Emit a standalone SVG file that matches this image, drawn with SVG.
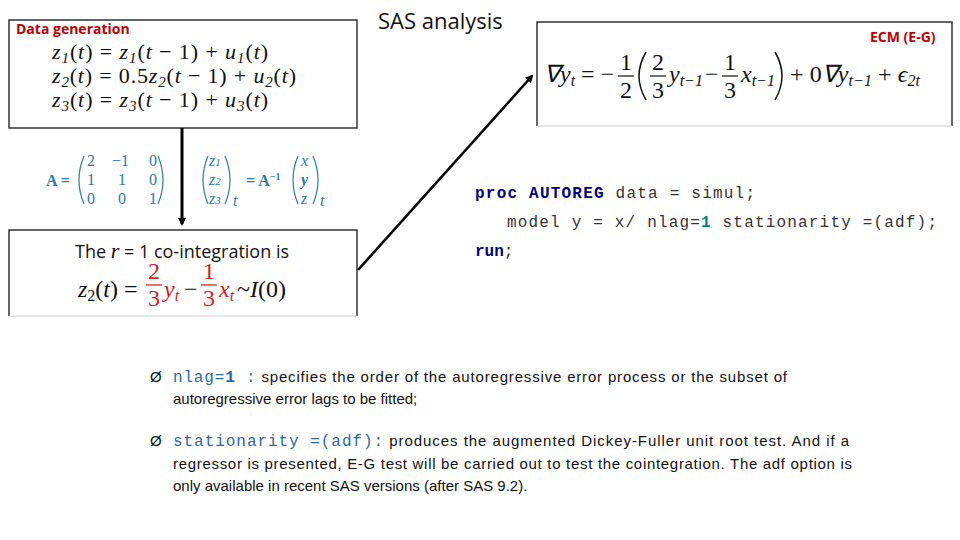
<svg xmlns="http://www.w3.org/2000/svg" width="960" height="540" viewBox="0 0 960 540">
<style>
.box{fill:#fff;stroke:#333;stroke-width:1.5}
.m{font-family:"Liberation Serif",serif;font-size:24px;fill:#111}
.d{font-family:"Liberation Serif",serif;font-size:22px;fill:#111}
.i{font-style:italic}
.red{fill:#d42020}
.blue{font-family:"Liberation Serif",serif;font-size:16px;fill:#2a7ab0}
.par{fill:none;stroke:#2a7ab0;stroke-width:1.2}
.bp{fill:none;stroke:#111;stroke-width:1.5}
.lab{font-family:"Open Sans","Liberation Sans",sans-serif;font-weight:bold;font-size:14px;fill:#c00000}
.code{font-family:"Liberation Mono",monospace;font-size:16px;fill:#333}
.kw{fill:#000080;font-weight:bold}
.num{fill:#008080;font-weight:bold}
.body{font-family:"Liberation Sans",sans-serif;font-size:15px;fill:#111}
.bc{font-family:"Liberation Mono",monospace;font-size:16px;fill:#2a6aa0}
</style>
<defs><marker id="ah" markerWidth="8" markerHeight="8" refX="6" refY="4" orient="auto" markerUnits="userSpaceOnUse" viewBox="0 0 8 8"><path d="M0,0 L8,4 L0,8z" fill="#000"/></marker></defs>
<text x="378" y="29" font-family="Open Sans,Liberation Sans,sans-serif" font-size="22" fill="#111">SAS analysis</text>
<g id="datagen">
<rect class="box" x="9" y="20" width="348" height="108"/>
<text class="lab" x="16" y="34">Data generation</text>
<text class="d i" x="52" y="59" textLength="216">z<tspan font-size="15" dy="4">1</tspan><tspan dy="-4" font-style="normal">(</tspan>t<tspan font-style="normal">) = </tspan>z<tspan font-size="15" dy="4">1</tspan><tspan dy="-4" font-style="normal">(</tspan>t<tspan font-style="normal"> − 1) + </tspan>u<tspan font-size="15" dy="4">1</tspan><tspan dy="-4" font-style="normal">(</tspan>t<tspan font-style="normal">)</tspan></text>
<text class="d i" x="52" y="83" textLength="244">z<tspan font-size="15" dy="4">2</tspan><tspan dy="-4" font-style="normal">(</tspan>t<tspan font-style="normal">) = 0.5</tspan>z<tspan font-size="15" dy="4">2</tspan><tspan dy="-4" font-style="normal">(</tspan>t<tspan font-style="normal"> − 1) + </tspan>u<tspan font-size="15" dy="4">2</tspan><tspan dy="-4" font-style="normal">(</tspan>t<tspan font-style="normal">)</tspan></text>
<text class="d i" x="52" y="107" textLength="216">z<tspan font-size="15" dy="4">3</tspan><tspan dy="-4" font-style="normal">(</tspan>t<tspan font-style="normal">) = </tspan>z<tspan font-size="15" dy="4">3</tspan><tspan dy="-4" font-style="normal">(</tspan>t<tspan font-style="normal"> − 1) + </tspan>u<tspan font-size="15" dy="4">3</tspan><tspan dy="-4" font-style="normal">(</tspan>t<tspan font-style="normal">)</tspan></text>
</g>
<g id="matrix">
<text class="blue" x="46" y="186" font-weight="bold">A =</text>
<path class="par" d="M84,156 Q74,180 84,204"/>
<text class="blue" x="87" y="166">2</text><text class="blue" x="112" y="166">−1</text><text class="blue" x="149" y="166">0</text>
<text class="blue" x="87" y="185">1</text><text class="blue" x="118" y="185">1</text><text class="blue" x="149" y="185">0</text>
<text class="blue" x="87" y="204">0</text><text class="blue" x="118" y="204">0</text><text class="blue" x="149" y="204">1</text>
<path class="par" d="M158,156 Q168,180 158,204"/>
<path class="par" d="M208,156 Q198,180 208,204"/>
<text class="blue" x="209" y="166" font-style="italic">z<tspan font-size="11">1</tspan></text>
<text class="blue" x="209" y="185" font-style="italic">z<tspan font-size="11">2</tspan></text>
<text class="blue" x="209" y="204" font-style="italic">z<tspan font-size="11">3</tspan></text>
<path class="par" d="M225,156 Q235,180 225,204"/>
<text class="blue" x="233" y="206" font-size="10" font-style="italic">t</text>
<text class="blue" x="246" y="186" font-weight="bold">= A<tspan font-size="10" dy="-6">−1</tspan></text>
<path class="par" d="M298,156 Q288,180 298,204"/>
<text class="blue" x="301" y="166" font-style="italic">x</text>
<text class="blue" x="301" y="185" font-style="italic" font-weight="bold">y</text>
<text class="blue" x="301" y="204" font-style="italic">z</text>
<path class="par" d="M313,156 Q323,180 313,204"/>
<text class="blue" x="320" y="206" font-size="10" font-style="italic">t</text>
</g>
<g id="coint">
<path d="M9,316 V230 H357 V316" fill="#fff" stroke="#333" stroke-width="1.5"/>
<line x1="9" y1="316" x2="357" y2="316" stroke="#ccc"/>
<text x="75" y="258" font-family="Open Sans,Liberation Sans,sans-serif" font-size="18" fill="#111">The <tspan font-family="Liberation Serif,serif" font-style="italic" font-size="22">r</tspan> = 1 co-integration is</text>
<text class="m" x="78" y="297"><tspan font-style="italic">z</tspan><tspan font-size="16" dy="4">2</tspan><tspan dy="-4">(</tspan><tspan font-style="italic">t</tspan>) =</text>
<text class="m red" x="148" y="279">2</text><line x1="146" y1="285" x2="162" y2="285" stroke="#d42020" stroke-width="1.3"/><text class="m red" x="148" y="306">3</text>
<text class="m red i" x="164" y="297">y<tspan font-size="16" dy="4">t</tspan></text>
<text class="m" x="184" y="297">−</text>
<text class="m red" x="203" y="279">1</text><line x1="201" y1="285" x2="217" y2="285" stroke="#d42020" stroke-width="1.3"/><text class="m red" x="203" y="306">3</text>
<text class="m red i" x="219" y="297">x<tspan font-size="16" dy="4">t</tspan></text>
<text class="m" x="237" y="297">~<tspan font-style="italic">I</tspan>(0)</text>
</g>
<g id="ecm">
<path d="M537,126 V22 H952 V126" fill="#fff" stroke="#333" stroke-width="1.5"/>
<line x1="537" y1="126" x2="952" y2="126" stroke="#ccc"/>
<text class="lab" x="870" y="42">ECM (E-G)</text>
<text class="m" x="544" y="82"><tspan font-style="italic">∇y</tspan><tspan font-size="16" dy="4" font-style="italic">t</tspan><tspan dy="-4"> = −</tspan></text>
<text class="m" x="620" y="70">1</text><line x1="618" y1="76" x2="634" y2="76" stroke="#111" stroke-width="1.2"/><text class="m" x="620" y="98">2</text>
<path class="bp" d="M646,52 Q632,76 646,100"/>
<text class="m" x="652" y="70">2</text><line x1="650" y1="76" x2="666" y2="76" stroke="#111" stroke-width="1.2"/><text class="m" x="652" y="98">3</text>
<text class="m i" x="669" y="82">y<tspan font-size="16" dy="4">t−1</tspan></text>
<text class="m" x="705" y="82">−</text>
<text class="m" x="724" y="70">1</text><line x1="722" y1="76" x2="738" y2="76" stroke="#111" stroke-width="1.2"/><text class="m" x="724" y="98">3</text>
<text class="m i" x="741" y="82">x<tspan font-size="16" dy="4">t−1</tspan></text>
<path class="bp" d="M775,52 Q789,76 775,100"/>
<text class="m" x="790" y="82" textLength="130">+ 0<tspan font-style="italic">∇y</tspan><tspan font-size="16" dy="4" font-style="italic">t−1</tspan><tspan dy="-4"> + </tspan><tspan font-style="italic">ϵ</tspan><tspan font-size="16" dy="4" font-style="italic">2t</tspan></text>
</g>
<g id="code">
<text class="code" x="475" y="198" textLength="280"><tspan class="kw">proc AUTOREG</tspan> data = simul;</text>
<text class="code" x="507" y="227" textLength="430"><tspan>model y = x/ nlag=</tspan><tspan class="num">1</tspan> stationarity =(adf);</text>
<text class="code" x="475" y="256"><tspan class="kw">run</tspan>;</text>
</g>
<g id="notes">
<text class="body" x="150" y="382">Ø</text>
<text class="body" x="173" y="382" textLength="614"><tspan class="bc">nlag=<tspan font-weight="bold">1</tspan> :</tspan> specifies the order of the autoregressive error process or the subset of</text>
<text class="body" x="173" y="404">autoregressive error lags to be fitted;</text>
<text class="body" x="150" y="446">Ø</text>
<text class="body" x="173" y="446" textLength="676"><tspan class="bc">stationarity =(adf):</tspan> produces the augmented Dickey-Fuller unit root test. And if a</text>
<text class="body" x="173" y="469" textLength="679">regressor is presented, E-G test will be carried out to test the cointegration. The adf option is</text>
<text class="body" x="173" y="491">only available in recent SAS versions (after SAS 9.2).</text>
</g>
<g id="connectors" stroke="#000" stroke-width="3" fill="none">
<line x1="182" y1="128" x2="182" y2="224" marker-end="url(#ah)"/>
<line x1="358" y1="270" x2="532" y2="76" stroke-width="2.5" marker-end="url(#ah)"/>
</g>
</svg>
